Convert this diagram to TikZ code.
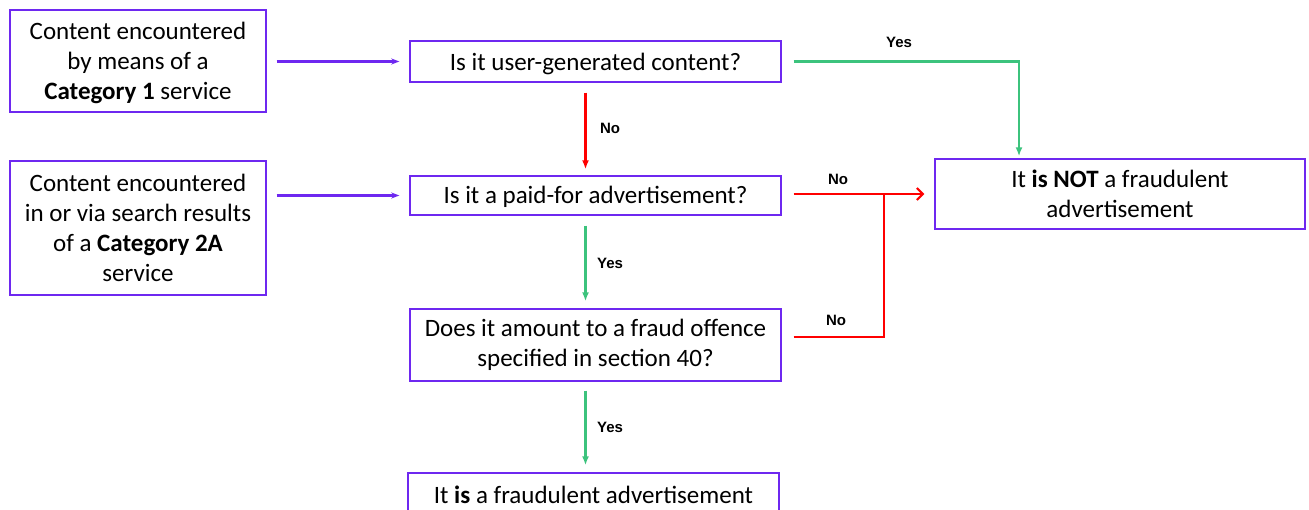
\documentclass[tikz,border=0pt]{standalone}
\usepackage{fontspec}
\setmainfont{Carlito}
\newfontfamily\labfont{Liberation Sans}
\usetikzlibrary{arrows.meta}
\definecolor{vio}{RGB}{110,40,240}
\definecolor{grn}{RGB}{60,195,125}
\definecolor{rd}{RGB}{255,0,0}
\newcommand\lowered[2]{\raisebox{-#1}[\height][\depth]{\begin{tabular}{@{}c@{}}#2\end{tabular}}}
\begin{document}
\begin{tikzpicture}[x=1pt,y=-1pt,
  box/.style={draw=vio, line width=1.4pt, align=center, inner sep=0pt,
    font=\fontsize{25}{30}\selectfont},
  lbl/.style={font=\labfont\bfseries\fontsize{15}{17}\selectfont},
  parrow/.style={draw=vio, line width=2.2pt, -{Stealth[length=8pt,width=6pt]}},
  garrow/.style={draw=grn, line width=2.2pt, -{Latex[length=9pt,width=7pt]}},
  rarrow/.style={draw=rd, line width=2.2pt, -{Latex[length=9pt,width=7pt]}},
  ropen/.style={draw=rd, line width=2.2pt, -{Straight Barb[length=6pt,width=12pt,line width=2pt]}},
  rline/.style={draw=rd, line width=2.2pt}
]
\clip (0,0) rectangle (1309,510);
\fill[white] (0,0) rectangle (1309,510);

\node[box, minimum width=256pt, minimum height=102pt] (a) at (138,61)
  {\lowered{3pt}{Content encountered\\by means of a\\\textbf{Category 1} service}};
\node[box, minimum width=256pt, minimum height=134pt] (b) at (138,228)
  {Content encountered\\in or via search results\\of a \textbf{Category 2A}\\service};
\node[box, minimum width=371pt, minimum height=41pt] (q1) at (595.5,61.5)
  {\lowered{3pt}{Is it user-generated content?}};
\node[box, minimum width=371pt, minimum height=39pt] (q2) at (595.5,195.5)
  {\lowered{2pt}{Is it a paid-for advertisement?}};
\node[box, minimum width=371pt, minimum height=72pt] (q3) at (595.5,345)
  {\lowered{1pt}{Does it amount to a fraud offence\\specified in section 40?}};
\node[box, minimum width=370pt, minimum height=70pt] (nt) at (1120,194)
  {\lowered{3pt}{It \textbf{is NOT} a fraudulent\\advertisement}};
\node[box, minimum width=371pt, minimum height=44pt] (is) at (593.5,495)
  {It \textbf{is} a fraudulent advertisement};

\draw[parrow, shorten <=10pt, shorten >=10pt] (a.east|-q1.west) -- (q1.west);
\draw[parrow, shorten <=10pt, shorten >=10pt] (b.east|-q2.west) -- (q2.west);

\draw[rarrow, shorten <=10pt, shorten >=6pt] ([xshift=-10pt]q1.south) -- ([xshift=-10pt]q2.north);
\draw[garrow, shorten <=10pt, shorten >=7pt] ([xshift=-10pt]q2.south) -- ([xshift=-10pt]q3.north);
\draw[garrow, shorten <=9pt, shorten >=7pt] ([xshift=-10pt]q3.south) -- ([xshift=-8pt]is.north);

\draw[garrow, shorten <=12pt, shorten >=2pt] (q1.east) -| ([xshift=-101pt]nt.north);
\draw[ropen, shorten <=12pt, shorten >=10pt] (q2.east|-nt.west) -- (nt.west);
\coordinate (j) at (884,194);
\draw[rline, shorten <=12pt] ([yshift=8pt]q3.east) -| (j);

\node[lbl] (l1) at (899,42) {Yes};
\node[lbl] (l2) at (610,128) {No};
\node[lbl] (l3) at (838,179) {No};
\node[lbl] (l4) at (610,263) {Yes};
\node[lbl] (l5) at (836,320) {No};
\node[lbl] (l6) at (610,427) {Yes};
\end{tikzpicture}
\end{document}
